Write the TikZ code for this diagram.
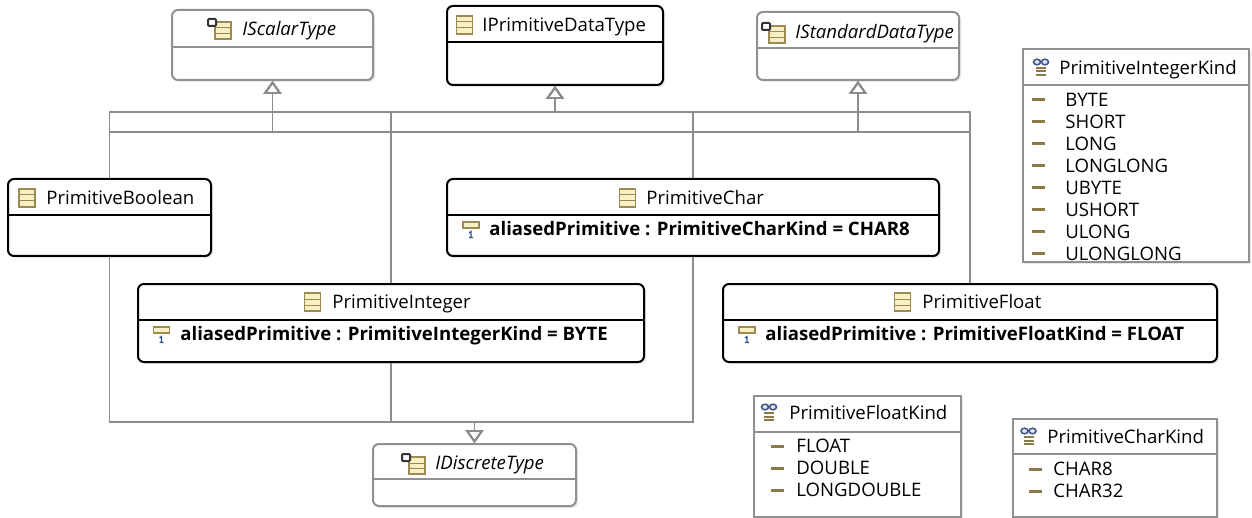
\documentclass[tikz,border=0pt]{standalone}
\usepackage{fontspec}
\setmainfont{Open Sans}
\usetikzlibrary{arrows.meta}
\usetikzlibrary{fit}
\usetikzlibrary{shadows}

\definecolor{lnk}{HTML}{8C8C8C}
\definecolor{bxg}{HTML}{909090}
\definecolor{icfill}{HTML}{F6F0C4}
\definecolor{icbrd}{HTML}{9C8A52}
\definecolor{dashc}{HTML}{8A7A48}
\definecolor{enumb}{HTML}{42598A}
\definecolor{numb}{HTML}{2E4F8F}

\tikzset{
  cls/.style={draw=black, line width=1pt, rounded corners=3pt, fill=white, inner sep=0pt,
    drop shadow={shadow xshift=1pt, shadow yshift=-1pt, opacity=0.18}},
  ifc/.style={cls, draw=bxg},
  enm/.style={draw=bxg, line width=1pt, fill=white, inner sep=0pt,
    drop shadow={shadow xshift=1pt, shadow yshift=-1pt, opacity=0.18}},
  txt/.style={anchor=base west, inner sep=0pt, font=\fontsize{9.3pt}{11pt}\selectfont},
  ital/.style={txt, font=\fontsize{9.3pt}{11pt}\selectfont\itshape},
  attr/.style={txt, font=\fontsize{9.3pt}{11pt}\selectfont\bfseries},
  gen/.style={draw=lnk, line width=0.9pt, -{Triangle[open, length=6.5pt, width=9pt]}},
  clsicon/.pic={
    \draw[icbrd, fill=icfill, line width=0.6pt] (-8,-9) rectangle (8,9);
    \draw[icbrd, line width=0.5pt] (-8,-3) -- (8,-3) (-8,3) -- (8,3);
  },
  ifcicon/.pic={
    \draw[icbrd, fill=icfill, line width=0.6pt] (-5,-6) rectangle (11,11);
    \draw[icbrd, line width=0.5pt] (-5,0) -- (11,0) (-5,5.5) -- (11,5.5);
    \draw[black!80, fill=white, line width=1pt, rounded corners=0.5pt] (-12,-9) rectangle (-4,-2);
  },
  attricon/.pic={
    \draw[icbrd, fill=icfill, line width=0.6pt] (-8,-7) rectangle (8,-1);
    \draw[numb, line width=0.6pt] (-2,4) -- (0,2.5) -- (0,8.5) (-2,8.5) -- (2,8.5);
  },
  enumicon/.pic={
    \draw[enumb, fill=enumb!15, line width=0.8pt] (-4,-6) ellipse (3.5 and 2.8) (4,-6) ellipse (3.5 and 2.8);
    \draw[dashc, line width=1pt] (-5,0) -- (5,0) (-5,3.5) -- (5,3.5) (-5,7) -- (5,7);
  },
  liticon/.pic={
    \draw[dashc, line width=1.5pt] (-6.5,0) -- (6.5,0);
  }
}

\begin{document}
\begin{tikzpicture}[x=0.5pt, y=-0.5pt]
\fill[white] (0,0) rectangle (1252,518);
\useasboundingbox (0,0) rectangle (1252,518);

\coordinate (railA) at (0,112);
\coordinate (railB) at (0,132);
\coordinate (railC) at (0,422);

% interfaces on top
\node[ifc, fit={(172,10) (373,80)}] (scal) {};
\draw[bxg, line width=1pt] (scal.west |- 0,47) -- (scal.east |- 0,47);
\pic at (220,28) {ifcicon};
\node[ital] (scalT) at (242,35.5) {IScalarType};

\node[cls, fit={(447,6) (663,85)}] (prim) {};
\draw[line width=1pt] (prim.west |- 0,42) -- (prim.east |- 0,42);
\pic at (464.5,25) {clsicon};
\node[txt] (primT) at (482,31.5) {IPrimitiveDataType};

\node[ifc, fit={(757,12) (959,80)}] (std) {};
\draw[bxg, line width=1pt] (std.west |- 0,48) -- (std.east |- 0,48);
\pic at (774,32) {ifcicon};
\node[ital] (stdT) at (795,38.5) {IStandardDataType};

% classes
\node[cls, fit={(8,179) (211,256)}] (bool) {};
\draw[line width=1pt] (bool.west |- 0,215) -- (bool.east |- 0,215);
\pic at (27,198) {clsicon};
\node[txt] (boolT) at (46,204.5) {PrimitiveBoolean};

\node[cls, fit={(447,179) (939,256)}] (char) {};
\draw[line width=1pt] (char.west |- 0,215) -- (char.east |- 0,215);
\pic at (627.5,198) {clsicon};
\node[txt] (charT) at (646,204.5) {PrimitiveChar};
\pic at (471,229) {attricon};
\node[attr] (charA) at (489,235.5) {aliasedPrimitive : PrimitiveCharKind = CHAR8};

\node[cls, fit={(138,284) (644,362)}] (int) {};
\draw[line width=1pt] (int.west |- 0,320) -- (int.east |- 0,320);
\pic at (312.5,302) {clsicon};
\node[txt] (intT) at (332,308.5) {PrimitiveInteger};
\pic at (161.5,334) {attricon};
\node[attr] (intA) at (180,340.5) {aliasedPrimitive : PrimitiveIntegerKind = BYTE};

\node[cls, fit={(723,284) (1217,362)}] (float) {};
\draw[line width=1pt] (float.west |- 0,320) -- (float.east |- 0,320);
\pic at (902.5,302) {clsicon};
\node[txt] (floatT) at (922,308.5) {PrimitiveFloat};
\pic at (747,334) {attricon};
\node[attr] (floatA) at (765,340.5) {aliasedPrimitive : PrimitiveFloatKind = FLOAT};

\node[ifc, fit={(373,444) (576,506)}] (disc) {};
\draw[bxg, line width=1pt] (disc.west |- 0,479) -- (disc.east |- 0,479);
\pic at (414,463) {ifcicon};
\node[ital] (discT) at (435,469.5) {IDiscreteType};

% enumerations
\node[enm, fit={(1023,49) (1249,262)}] (intk) {};
\draw[bxg, line width=1pt] (intk.west |- 0,85) -- (intk.east |- 0,85);
\pic at (1041,68) {enumicon};
\node[txt] (intkT) at (1059,74.5) {PrimitiveIntegerKind};
\foreach \t [count=\i] in {BYTE,SHORT,LONG,LONGLONG,UBYTE,USHORT,ULONG,ULONGLONG}{
  \pic at (1038.5,{78+22*\i}) {liticon};
  \node[txt] (intk\i) at (1065,{84.5+22*\i}) {\t};
}

\node[enm, fit={(754,396) (961,517)}] (fltk) {};
\draw[bxg, line width=1pt] (fltk.west |- 0,432) -- (fltk.east |- 0,432);
\pic at (769,413) {enumicon};
\node[txt] (fltkT) at (789,419.5) {PrimitiveFloatKind};
\foreach \t [count=\i] in {FLOAT,DOUBLE,LONGDOUBLE}{
  \pic at (777.5,{424+22*\i}) {liticon};
  \node[txt] (fltk\i) at (796,{430.5+22*\i}) {\t};
}

\node[enm, fit={(1013,419) (1217,517)}] (chrk) {};
\draw[bxg, line width=1pt] (chrk.west |- 0,454) -- (chrk.east |- 0,454);
\pic at (1028.5,437) {enumicon};
\node[txt] (chrkT) at (1047,443.5) {PrimitiveCharKind};
\foreach \t [count=\i] in {CHAR8,CHAR32}{
  \pic at (1035.5,{447+22*\i}) {liticon};
  \node[txt] (chrk\i) at (1053,{453.5+22*\i}) {\t};
}

% generalizations
\foreach \c in {bool,int,char,float}{
  \draw[gen] (\c.north) |- (prim.south |- railA) -- (prim.south);
  \draw[gen] (\c.north) |- (scal.south |- railB) -- (scal.south);
  \draw[gen] (\c.north) |- (std.south |- railB) -- (std.south);
}
\foreach \c in {bool,int,char}{
  \draw[gen] (\c.south) |- (disc.north |- railC) -- (disc.north);
}
\end{tikzpicture}
\end{document}
